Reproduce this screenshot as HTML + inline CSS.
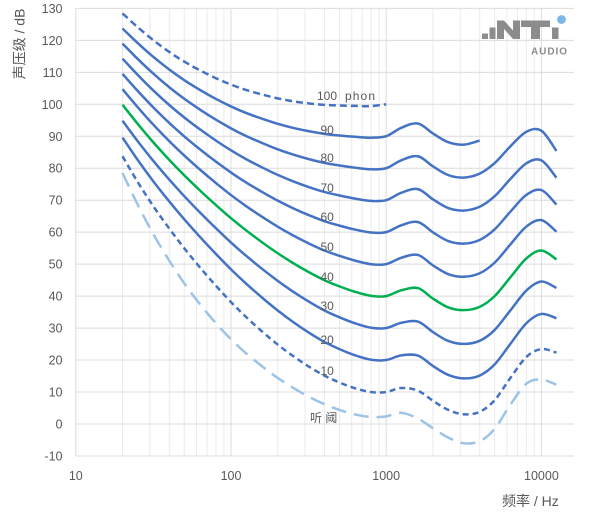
<!DOCTYPE html>
<html><head><meta charset="utf-8">
<style>
html,body{margin:0;padding:0;background:#fff;}
svg{display:block;}
text{font-family:"Liberation Sans","Noto Sans CJK SC",sans-serif;fill:#595959;}
</style></head>
<body>
<svg id="c" width="600" height="517" viewBox="0 0 600 517" xmlns="http://www.w3.org/2000/svg">
<g id="grid"></g>
<g id="logo">
  <rect x="482" y="33.5" width="6" height="5.5" fill="#8c8c8c"/>
  <rect x="489.5" y="27.5" width="6" height="11.5" fill="#8c8c8c"/>
  <polygon points="497,39 497,20.5 504,20.5 513,30.5 513,20.5 520,20.5 520,39 513,39 504,29 504,39" fill="#8c8c8c"/>
  <rect x="521" y="20.5" width="29" height="6.5" fill="#8c8c8c"/>
  <rect x="531" y="20.5" width="9" height="18.5" fill="#8c8c8c"/>
  <rect x="552" y="27.5" width="6.5" height="11.5" fill="#8c8c8c"/>
  <circle cx="561.5" cy="19.5" r="4.4" fill="#7db6e6"/>
  <text x="531" y="54.5" font-size="10" font-weight="bold" textLength="36" lengthAdjust="spacing" style="fill:#8c8c8c">AUDIO</text>
</g>
<g id="curves"></g>
<g id="labels" font-size="12">
  <text x="317" y="100" textLength="20">100</text>
  <text x="345" y="100" textLength="30" lengthAdjust="spacing">phon</text>
  <text x="320.5" y="134">90</text>
  <text x="320.5" y="162">80</text>
  <text x="320.5" y="192">70</text>
  <text x="320.5" y="221">60</text>
  <text x="320.5" y="251">50</text>
  <text x="320.5" y="281">40</text>
  <text x="320.5" y="310">30</text>
  <text x="320.5" y="344">20</text>
  <text x="320.5" y="375">10</text>
  <text x="310" y="422" font-size="12">听 阈</text>
</g>
<g id="ticks" font-size="12.5"></g>
<text x="502" y="506" font-size="14">频率 / Hz</text>
<text transform="translate(24.5,44) rotate(-90)" text-anchor="middle" font-size="14">声压级 / dB</text>
</svg>
<script>
(function(){
var NS="http://www.w3.org/2000/svg";
function X(fr){return 75.8+155.2*(Math.log10(fr)-1);}
function Y(db){return 424-3.197*db;}
function el(tag,attrs,parent,txt){var e=document.createElementNS(NS,tag);for(var k in attrs)e.setAttribute(k,attrs[k]);if(txt!==undefined)e.textContent=txt;parent.appendChild(e);return e;}
var grid=document.getElementById('grid');
var L=75.8,R=574,T=Y(130),B=Y(-10);
for(var d=1;d<=4;d++){for(var m=2;m<=9;m++){var fr=m*Math.pow(10,d);var x=X(fr);if(x>R)break;
 el('line',{x1:x,x2:x,y1:T,y2:B,stroke:'#ebebeb','stroke-width':1},grid);}}
[10,100,1000,10000].forEach(function(fr){var x=X(fr);el('line',{x1:x,x2:x,y1:T,y2:B,stroke:'#dcdcdc','stroke-width':1},grid);});
for(var v=-10;v<=130;v+=10){var y=Y(v);el('line',{x1:L,x2:R,y1:y,y2:y,stroke:'#dcdcdc','stroke-width':1},grid);}
var ticks=document.getElementById('ticks');
for(var v=-10;v<=130;v+=10){el('text',{x:62.5,y:Y(v)+4.5,'text-anchor':'end'},ticks,String(v));}
[10,100,1000,10000].forEach(function(fr){el('text',{x:X(fr),y:480,'text-anchor':'middle'},ticks,String(fr));});

var f=[20,25,31.5,40,50,63,80,100,125,160,200,250,315,400,500,630,800,1000,1250,1600,2000,2500,3150,4000,5000,6300,8000,10000,12500];
var af=[0.532,0.506,0.480,0.455,0.432,0.409,0.387,0.367,0.349,0.330,0.315,0.301,0.288,0.276,0.267,0.259,0.253,0.250,0.246,0.244,0.243,0.243,0.243,0.242,0.242,0.245,0.254,0.271,0.301];
var Lu=[-31.6,-27.2,-23.0,-19.1,-15.9,-13.0,-10.3,-8.1,-6.2,-4.5,-3.1,-2.0,-1.1,-0.4,0.0,0.3,0.5,0.0,-2.7,-4.1,-1.0,1.7,2.5,1.2,-2.1,-7.1,-11.2,-10.7,-3.1];
var Tf=[78.5,68.7,59.5,51.1,44.0,37.5,31.5,26.5,22.1,17.9,14.4,11.4,8.6,6.2,4.4,3.0,2.2,2.4,3.5,1.7,-1.3,-4.2,-6.0,-5.4,-1.5,6.0,12.6,13.9,12.3];
function spl(Ln,i){var A=4.47e-3*(Math.pow(10,0.025*Ln)-1.15)+Math.pow(0.4*Math.pow(10,(Tf[i]+Lu[i])/10-9),af[i]);return 10/af[i]*Math.log10(A)-Lu[i]+94;}
function pathOf(pts){var d='M'+pts[0][0].toFixed(2)+','+pts[0][1].toFixed(2);
 for(var i=0;i<pts.length-1;i++){var p0=pts[i-1]||pts[i],p1=pts[i],p2=pts[i+1],p3=pts[i+2]||p2;
  var c1=[p1[0]+(p2[0]-p0[0])/6,p1[1]+(p2[1]-p0[1])/6],c2=[p2[0]-(p3[0]-p1[0])/6,p2[1]-(p3[1]-p1[1])/6];
  d+='C'+c1[0].toFixed(2)+','+c1[1].toFixed(2)+' '+c2[0].toFixed(2)+','+c2[1].toFixed(2)+' '+p2[0].toFixed(2)+','+p2[1].toFixed(2);}
 return d;}
var cg=document.getElementById('curves');
function curve(vals,n,attrs){var pts=[];for(var i=0;i<n;i++)pts.push([X(f[i]),Y(vals(i))]);
 attrs.d=pathOf(pts);attrs.fill='none';attrs['stroke-linejoin']='round';el('path',attrs,cg);}
curve(function(i){return Tf[i];},29,{stroke:'#9dc3e6','stroke-width':2.5,'stroke-dasharray':'15 8'});
curve(function(i){return spl(10,i);},29,{stroke:'#4472c4','stroke-width':2.5,'stroke-dasharray':'6 4'});
[20,30,40,50,60,70,80].forEach(function(ph){
 curve(function(i){return spl(ph,i);},29,{stroke:ph===40?'#00b050':'#4472c4','stroke-width':2.5});});
curve(function(i){return spl(90,i);},24,{stroke:'#4472c4','stroke-width':2.5});
curve(function(i){return spl(100,i);},18,{stroke:'#4472c4','stroke-width':2.5,'stroke-dasharray':'7 4'});
})();
</script>
</body></html>
